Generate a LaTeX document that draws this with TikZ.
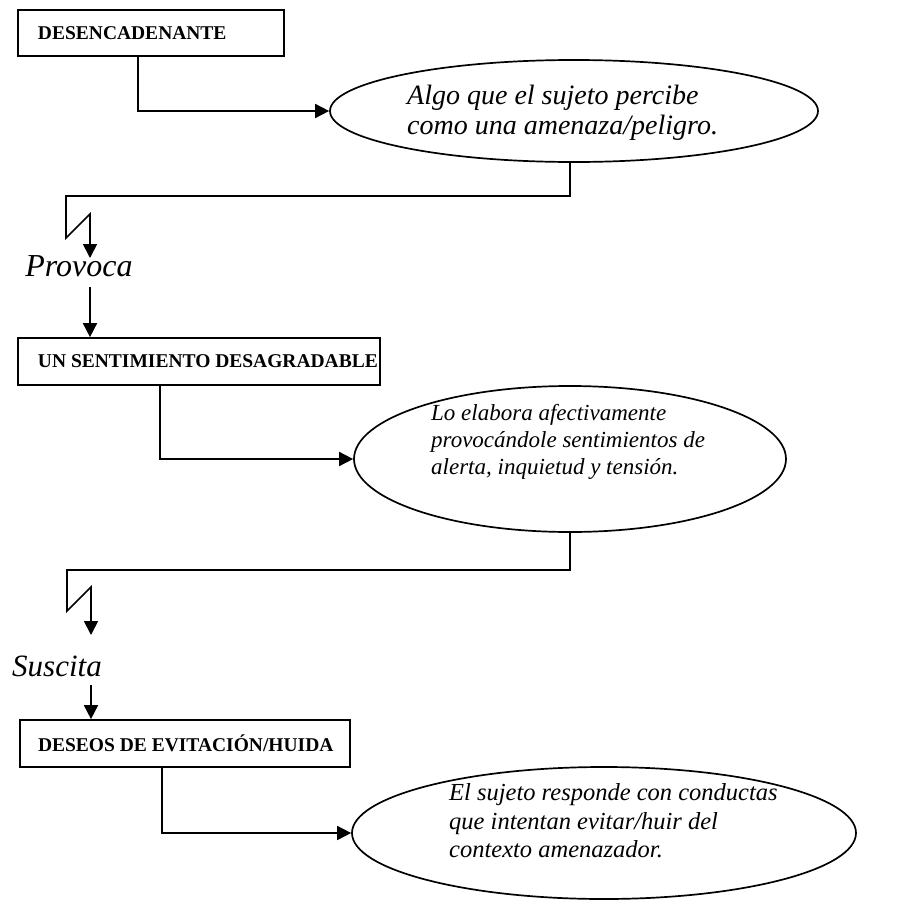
\documentclass[tikz,border=0pt]{standalone}
\usepackage{fontspec}
\setmainfont{Liberation Serif}
\usetikzlibrary{arrows.meta,shapes.geometric}
\begin{document}
\begin{tikzpicture}[x=1pt,y=-1pt,
  line width=1.7pt,
  arr/.style={-{Triangle[length=14pt,width=14pt]}},
  boxnode/.style={draw,rectangle,inner xsep=0pt,inner ysep=0pt,
     font=\bfseries\fontsize{19.5}{23}\selectfont},
  ell/.style={draw,ellipse,inner sep=0pt},
  etext/.style={anchor=west,align=left,font=\itshape\fontsize{25}{29}\selectfont},
  verb/.style={font=\itshape\fontsize{31}{34}\selectfont,inner sep=0pt}]
\useasboundingbox (0,0) rectangle (921,902);

% boxes
\node[boxnode,minimum width=266pt,minimum height=46pt] (b1) at (151,33) {\makebox[266pt][l]{\hspace{20pt}DESENCADENANTE}};
\node[boxnode,minimum width=362pt,minimum height=47pt] (b2) at (199,361.5) {\makebox[362pt][l]{\hspace{20pt}UN SENTIMIENTO DESAGRADABLE}};
\node[boxnode,minimum width=330pt,minimum height=47pt] (b3) at (185,743.5) {\makebox[330pt][l]{\hspace{18pt}DESEOS DE EVITACIÓN/HUIDA}};

% ellipses
\node[ell,minimum width=488pt,minimum height=102pt] (e1) at (574,111) {};
\node[ell,minimum width=432pt,minimum height=146pt] (e2) at (570,459) {};
\node[ell,minimum width=504pt,minimum height=132pt] (e3) at (604,833) {};

% ellipse texts
\node[etext,font=\itshape\fontsize{28}{29.5}\selectfont] (t1) at (403,113) {Algo que el sujeto percibe\\como una amenaza/peligro.};
\node[etext,font=\itshape\fontsize{23}{27}\selectfont] (t2) at (427,442) {Lo elabora afectivamente\\provocándole sentimientos de\\alerta, inquietud y tensión.};
\node[etext,font=\itshape\fontsize{24.5}{28.5}\selectfont] (t3) at (445,821) {El sujeto responde con conductas\\que intentan evitar/huir del\\contexto amenazador.};

% verbs
\node[verb,font=\itshape\fontsize{32}{35}\selectfont] (v1) at (79,266) {Provoca};
\node[verb] (v2) at (57,666) {Suscita};

% coordinates
\coordinate (c1) at (138,56);
\coordinate (z1) at (66,196);
\coordinate (z2) at (66,238);
\coordinate (z3) at (90,214);
\coordinate (a1) at (90,258);
\coordinate (a2) at (90,287);
\coordinate (c2) at (160,385);
\coordinate (y1) at (67,570);
\coordinate (y2) at (67,611);
\coordinate (y3) at (91,587);
\coordinate (d1) at (91,635);
\coordinate (d2) at (91,685);
\coordinate (c3) at (162,767);

% connectors
\draw[arr] (c1) |- (e1.west);
\draw[arr,line join=miter] (e1.south -| 570,0) |- (z1) -- (z2) -- (z3) -- (a1);
\draw[arr] (a2) -- (b2.north -| a2);
\draw[arr] (c2) |- (e2.west);
\draw[arr,line join=miter] (e2.south -| 570,0) |- (y1) -- (y2) -- (y3) -- (d1);
\draw[arr] (d2) -- (b3.north -| d2);
\draw[arr] (c3) |- (e3.west);
\end{tikzpicture}
\end{document}
